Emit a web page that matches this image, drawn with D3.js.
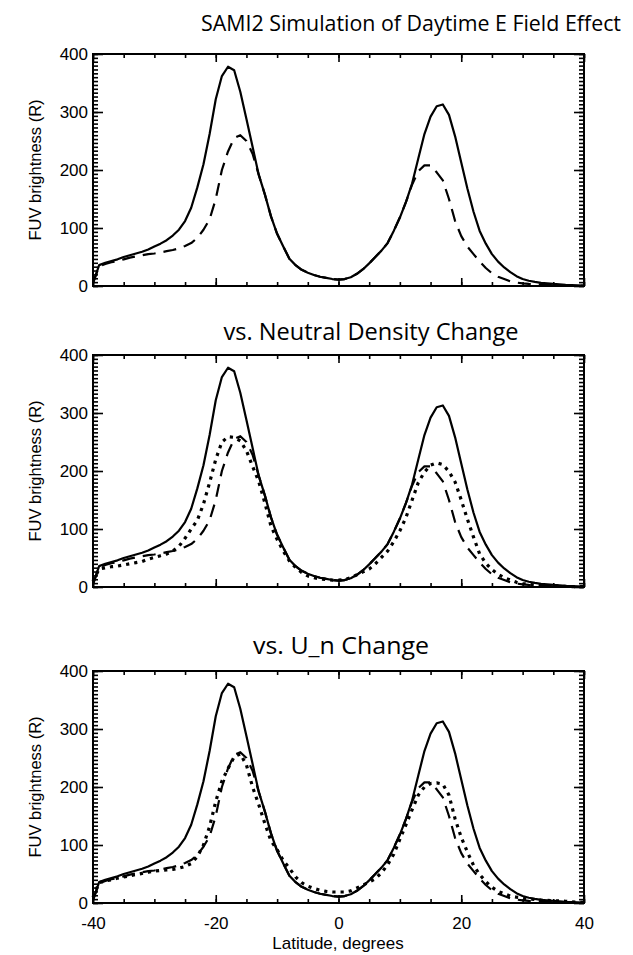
<!DOCTYPE html>
<html>
<head>
<meta charset="utf-8">
<script src="https://cdn.jsdelivr.net/npm/d3@7"></script>
<style>
  body { margin: 0; background: #fff; }
  #vis { width: 633px; height: 955px; }
  .axis path { display: none; }
  .axis line { stroke: #000; stroke-width: 1.6; }
  .axis text { font-family: "Liberation Sans", Arial, sans-serif; font-size: 17px; fill: #000; }
  .title { font-family: "Open Sans", "Noto Sans", sans-serif; font-size: 23px; fill: #000; }
  .label { font-family: "Liberation Sans", Arial, sans-serif; font-size: 16.5px; fill: #000; }
</style>
</head>
<body>
<div id="vis"></div>
<script>
// latitude grid, 1 degree steps
var latitude = d3.range(-40, 41, 1);

// baseline run (solid)
var baseline = [5, 36, 40, 43, 46, 50, 53, 56, 59, 63, 68, 73, 79, 87, 97, 112, 135, 170, 210, 262, 322, 362, 378, 372, 335, 288, 240, 192, 158, 120, 90, 68, 47, 36, 28, 23, 19, 16, 14, 12, 11,
  12, 15, 21, 29, 39, 50, 61, 74, 95, 118, 145, 177, 220, 262, 292, 310, 313, 295, 258, 213, 168, 128, 95, 73, 55, 42, 32, 24, 17, 12, 9, 7, 5.5, 4.5, 3.5, 3, 2, 1.5, 1, 0.5];

// daytime E field run (dashed)
var eField = [5, 34, 38, 41, 43, 46, 49, 51, 53, 55, 56, 58, 60, 62, 65, 69, 74, 83, 97, 115, 150, 200, 232, 255, 260, 250, 228, 192, 158, 120, 90, 68, 47, 36, 28, 23, 19, 16, 14, 12, 11,
  12, 15, 21, 29, 39, 50, 61, 74, 95, 118, 145, 175, 198, 208, 208, 196, 182, 150, 112, 86, 68, 55, 42, 31, 22, 16, 12, 8, 6, 4.5, 3.5, 3, 2.5, 2, 1.5, 1.2, 1, 0.8, 0.6, 0.5];

// neutral density change run (dotted, panel 2)
var neutralDensity = [10, 31, 33, 35, 36, 38, 40, 42, 44, 48, 51, 54, 57, 62, 70, 84, 100, 115, 143, 180, 220, 250, 259, 258, 252, 235, 208, 182, 145, 105, 82, 62, 45, 34, 25, 19, 16, 14, 13, 12, 12,
  13, 16, 21, 26, 31, 40, 51, 62, 78, 97, 120, 150, 180, 198, 210, 214, 211, 199, 181, 150, 117, 86, 57, 41, 30, 22, 16, 12, 8, 6, 4.5, 3.5, 3, 2.5, 2, 1.5, 1, 0.8, 0.6, 0.5];

// U_n change run (dotted, panel 3)
var windChange = [10, 35, 38, 40, 43, 45, 47, 49, 51, 53, 55, 56, 57, 58, 60, 63, 68, 80, 100, 132, 175, 210, 232, 252, 257, 238, 200, 170, 137, 107, 92, 73, 60, 45, 35, 29, 25, 22, 20, 19, 19,
  19, 21, 26, 31, 36, 42, 52, 66, 84, 110, 135, 161, 186, 200, 206, 207, 205, 186, 145, 113, 88, 65, 49, 37, 27, 20, 16, 12, 10, 8.5, 7, 6, 5, 4.5, 4, 3.5, 3, 2, 1.5, 1];

var titles = ["SAMI2 Simulation of Daytime E Field Effect", "vs. Neutral Density Change", "vs. U_n Change"];
var xTicks = [-40, -20, 0, 20, 40];
var yTicks = [0, 100, 200, 300, 400];

var width = 633;
var height = 955;

var svg = d3.select('#vis')
  .append('svg')
  .attr('width', width)
  .attr('height', height);

var plotLeft = 93;
var plotRight = 584;
var plotHeight = 232;

var x_scale = d3.scaleLinear()
  .domain([-40, 40])
  .range([plotLeft, plotRight]);

var styles = {
  solid: { width: 2.2, dash: null },
  dashed: { width: 2.2, dash: '13,8' },
  dotted: { width: 3.2, dash: '3.2,5' }
};

var panels = [
  { top: 54, title: titles[0], tx: 411, tw: 420, ty: 31, fs: 21, series: [[baseline, 'solid'], [eField, 'dashed']] },
  { top: 355, title: titles[1], tx: 371, tw: 295, ty: 340, fs: 23, series: [[baseline, 'solid'], [eField, 'dashed'], [neutralDensity, 'dotted']] },
  { top: 671, title: titles[2], tx: 341, tw: 176, ty: 654, fs: 23, series: [[baseline, 'solid'], [eField, 'dashed'], [windChange, 'dotted']] }
];

var xMinor = d3.range(-40, 41, 5);
var yMinor = d3.range(0, 400.01, 100 / 15);

panels.forEach(function(p, idx) {
  var bottom = p.top + plotHeight;
  var y_scale = d3.scaleLinear()
    .domain([0, 400])
    .range([bottom, p.top]);

  var g = svg.append('g');

  // title
  g.append('text')
    .attr('class', 'title')
    .attr('x', p.tx)
    .attr('y', p.ty)
    .attr('text-anchor', 'middle')
    .attr('textLength', p.tw)
    .attr('lengthAdjust', 'spacingAndGlyphs')
    .style('font-size', p.fs + 'px')
    .text(p.title);

  // minor ticks
  g.append('g').attr('class', 'axis')
    .attr('transform', 'translate(0,' + bottom + ')')
    .call(d3.axisBottom(x_scale).tickValues(xMinor).tickSize(-4).tickFormat(''));
  g.append('g').attr('class', 'axis')
    .attr('transform', 'translate(0,' + p.top + ')')
    .call(d3.axisTop(x_scale).tickValues(xMinor).tickSize(-4).tickFormat(''));
  g.append('g').attr('class', 'axis')
    .attr('transform', 'translate(' + plotLeft + ',0)')
    .call(d3.axisLeft(y_scale).tickValues(yMinor).tickSize(-5).tickFormat(''));
  g.append('g').attr('class', 'axis')
    .attr('transform', 'translate(' + plotRight + ',0)')
    .call(d3.axisRight(y_scale).tickValues(yMinor).tickSize(-5).tickFormat(''));

  // major ticks
  var xb = d3.axisBottom(x_scale).tickValues(xTicks).tickSize(-8).tickPadding(14)
    .tickFormat(function(d) { return String(d); });
  if (idx < 2) xb.tickFormat('');
  g.append('g').attr('class', 'axis')
    .attr('transform', 'translate(0,' + bottom + ')')
    .call(xb);
  g.append('g').attr('class', 'axis')
    .attr('transform', 'translate(0,' + p.top + ')')
    .call(d3.axisTop(x_scale).tickValues(xTicks).tickSize(-8).tickFormat(''));
  g.append('g').attr('class', 'axis')
    .attr('transform', 'translate(' + plotLeft + ',0)')
    .call(d3.axisLeft(y_scale).tickValues(yTicks).tickSize(-10).tickPadding(5)
      .tickFormat(function(d) { return String(d); }));
  g.append('g').attr('class', 'axis')
    .attr('transform', 'translate(' + plotRight + ',0)')
    .call(d3.axisRight(y_scale).tickValues(yTicks).tickSize(-10).tickFormat(''));

  // frame
  g.append('rect')
    .attr('x', plotLeft)
    .attr('y', p.top)
    .attr('width', plotRight - plotLeft)
    .attr('height', plotHeight)
    .attr('fill', 'none')
    .attr('stroke', '#000')
    .attr('stroke-width', 2);

  // curves
  p.series.forEach(function(s) {
    var line = d3.line()
      .x(function(d, i) { return x_scale(latitude[i]); })
      .y(function(d) { return y_scale(d); });
    var st = styles[s[1]];
    g.append('path')
      .datum(s[0])
      .attr('d', line)
      .attr('fill', 'none')
      .attr('stroke', '#000')
      .attr('stroke-width', st.width)
      .attr('stroke-linejoin', 'round')
      .attr('stroke-dasharray', st.dash);
  });

  // y label
  g.append('text')
    .attr('class', 'label')
    .attr('text-anchor', 'middle')
    .attr('transform', 'translate(41,' + (p.top + plotHeight / 2) + ')rotate(-90)')
    .text('FUV brightness (R)');
});

svg.append('text')
  .attr('class', 'label')
  .attr('text-anchor', 'middle')
  .attr('x', 338)
  .attr('y', 949)
  .style('font-size', '17px')
  .text('Latitude, degrees');
</script>
</body>
</html>
